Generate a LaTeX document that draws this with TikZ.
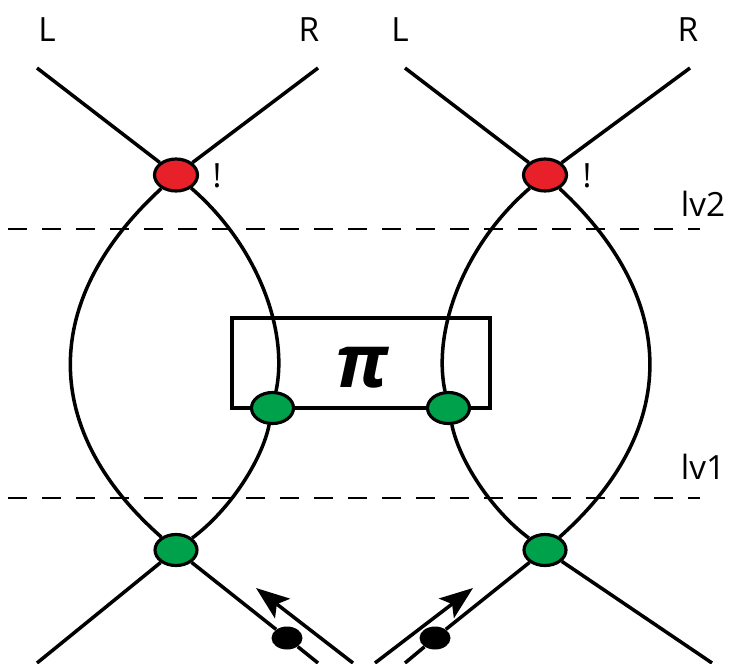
\documentclass[tikz,border=0pt]{standalone}
\usepackage{fontspec}
\setmainfont{Open Sans}
\usepackage{tikz}
\usetikzlibrary{arrows.meta,positioning,shapes.geometric}
\definecolor{vertexred}{HTML}{E8202A}
\definecolor{vertexgreen}{HTML}{00A14B}

\begin{document}
\begin{tikzpicture}[
  x=0.02cm, y=-0.02cm,
  font=\fontsize{19}{22}\selectfont,
  >={Stealth[length=19pt,width=14pt,inset=4pt]},
  wire/.style={
    line width=2pt,
    draw=black
  },
  levelline/.style={
    line width=1.6pt,
    dash pattern=on 0.38cm off 0.3cm
  },
  redvertex/.style={
    ellipse,
    draw=black,
    fill=vertexred,
    line width=1.8pt,
    minimum width=0.86cm,
    minimum height=0.64cm,
    inner sep=0pt
  },
  greenvertex/.style={
    redvertex,
    fill=vertexgreen,
    minimum width=0.84cm,
    minimum height=0.62cm
  },
  particle/.style={
    ellipse,
    fill=black,
    minimum width=0.62cm,
    minimum height=0.46cm,
    inner sep=0pt
  },
  pibox/.style={
    rectangle,
    draw=black,
    line width=1.8pt,
    minimum width=5.16cm,
    minimum height=1.8cm
  },
  momentum/.style={
    ->,
    line width=2pt
  }
]
  \useasboundingbox (0,0) rectangle (736,663);

  % --- level lines ---
  \coordinate (lv2a) at (8,229);
  \coordinate (lv2b) at (700,229);
  \coordinate (lv1a) at (8,498);
  \coordinate (lv1b) at (700,498);
  \draw[levelline] (lv2a) -- (lv2b);
  \draw[levelline] (lv1a) -- (lv1b);
  \node (lv2) at (703,204) {lv2};
  \node (lv1) at (703,467) {lv1};

  % --- Pi box ---
  \node[pibox] (pibox) at (361,363) {};
  \node[font=\fontsize{42}{44}\selectfont\bfseries\itshape] (pi) at (362,368) {π};

  % --- left diagram ---
  \node[redvertex] (r1) at (176,175) {};
  \node[greenvertex] (gm1) at (272.5,408) {};
  \node[greenvertex] (gb1) at (176,550) {};
  \node (bang1) at (217,176) {!};
  \node (L1) at (47,30) {L};
  \node (R1) at (309,30) {R};
  \coordinate (tl1) at (37,68);
  \coordinate (tr1) at (318,68);
  \coordinate (bl1) at (37,663);
  \coordinate (br1) at (318,663);
  \node[particle] (p1) at (287,638) {};

  \draw[wire] (r1) -- (tl1);
  \draw[wire] (r1) -- (tr1);
  \draw[wire] (gb1) -- (bl1);
  \draw[wire] (gb1) -- (p1) -- (br1);
  \draw[wire] (r1) .. controls (40,300) and (40,430) .. (gb1);
  \draw[wire] (r1) .. controls (256,244) and (289,329) .. (gm1);
  \draw[wire] (gm1) .. controls (262,460) and (230,510) .. (gb1);

  \coordinate (a1s) at (353,663);
  \coordinate (a1e) at (256,588);
  \draw[momentum] (a1s) -- (a1e);

  % --- right diagram ---
  \node[redvertex] (r2) at (545,175) {};
  \node[greenvertex] (gm2) at (448.5,408) {};
  \node[greenvertex] (gb2) at (545,550) {};
  \node (bang2) at (587,176) {!};
  \node (L2) at (400,30) {L};
  \node (R2) at (688,30) {R};
  \coordinate (tl2) at (405,68);
  \coordinate (tr2) at (690,68);
  \coordinate (bl2) at (405,663);
  \coordinate (br2) at (712,663);
  \node[particle] (p2) at (435,638) {};

  \draw[wire] (r2) -- (tl2);
  \draw[wire] (r2) -- (tr2);
  \draw[wire] (gb2) -- (br2);
  \draw[wire] (gb2) -- (p2) -- (bl2);
  \draw[wire] (r2) .. controls (680,300) and (680,430) .. (gb2);
  \draw[wire] (r2) .. controls (465,244) and (432,329) .. (gm2);
  \draw[wire] (gm2) .. controls (459,460) and (491,510) .. (gb2);

  \coordinate (a2s) at (375,663);
  \coordinate (a2e) at (473,588);
  \draw[momentum] (a2s) -- (a2e);

\end{tikzpicture}
\end{document}
